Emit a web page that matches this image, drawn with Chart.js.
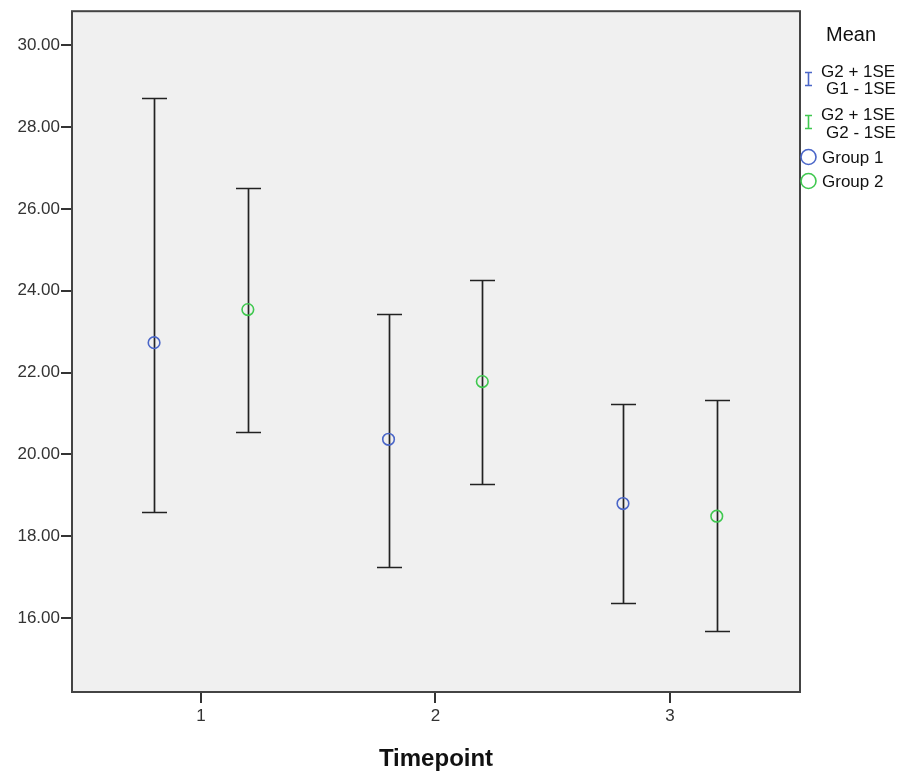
<!DOCTYPE html>
<html>
<head>
<meta charset="utf-8">
<script src="https://cdn.jsdelivr.net/npm/chart.js@4"></script>
<style>
html,body{margin:0;padding:0;background:#fff;}
#wrap{width:912px;height:776px;position:relative;}
</style>
</head>
<body>
<div id="wrap"><canvas id="c" width="912" height="776"></canvas></div>
<script>
// ---- data ----
const timepoints = [1, 2, 3];
const yTicks = [16, 18, 20, 22, 24, 26, 28, 30];
const group1Mean  = [22.73, 20.37, 18.80];
const group1Upper = [28.71, 23.44, 21.24];
const group1Lower = [18.59, 17.24, 16.37];
const group2Mean  = [23.54, 21.78, 18.49];
const group2Upper = [26.51, 24.27, 21.34];
const group2Lower = [20.56, 19.27, 15.68];
const groupOffset = 0.2;
const legendTitle = 'Mean';
const legendBar1 = ['G2 + 1SE', 'G1 - 1SE'];
const legendBar2 = ['G2 + 1SE', 'G2 - 1SE'];
const groupNames = ['Group 1', 'Group 2'];

const BLUE = '#4a66c8';
const GREEN = '#3fc84f';
const INK = '#222';
const FONT = 'Liberation Sans, Arial, sans-serif';

const pts = (means, off) => timepoints.map((t, i) => ({x: t + off, y: means[i]}));

const errorBars = {
  id: 'errorBars',
  beforeDatasetsDraw(chart) {
    const {ctx, chartArea: a, scales: {x, y}} = chart;
    ctx.save();
    ctx.fillStyle = '#f0f0f0';
    ctx.fillRect(a.left, a.top, a.right - a.left, a.bottom - a.top);
    const draw = (upper, lower, off) => {
      timepoints.forEach((t, i) => {
        const px = Math.round(x.getPixelForValue(t + off)) + 0.5;
        const yu = Math.round(y.getPixelForValue(upper[i])) + 0.5;
        const yl = Math.round(y.getPixelForValue(lower[i])) + 0.5;
        ctx.strokeStyle = INK;
        ctx.lineWidth = 1.7;
        ctx.beginPath();
        ctx.moveTo(px, yu); ctx.lineTo(px, yl);
        ctx.moveTo(px - 12.5, yu); ctx.lineTo(px + 12.5, yu);
        ctx.moveTo(px - 12.5, yl); ctx.lineTo(px + 12.5, yl);
        ctx.stroke();
      });
    };
    draw(group1Upper, group1Lower, -groupOffset);
    draw(group2Upper, group2Lower, groupOffset);
    ctx.restore();
  },
  afterDraw(chart) {
    const {ctx, chartArea: a} = chart;
    ctx.save();
    // frame
    ctx.strokeStyle = '#444';
    ctx.lineWidth = 2;
    ctx.strokeRect(a.left, a.top, a.right - a.left, a.bottom - a.top);
    // legend
    ctx.fillStyle = '#111';
    ctx.textBaseline = 'middle';
    ctx.textAlign = 'left';
    ctx.font = '20px ' + FONT;
    ctx.fillText(legendTitle, 826, 35);
    ctx.font = '17px ' + FONT;
    const icon = (cx, cy, col) => {
      ctx.strokeStyle = col; ctx.lineWidth = 1.6;
      ctx.beginPath();
      ctx.moveTo(cx, cy - 6.5); ctx.lineTo(cx, cy + 6.5);
      ctx.moveTo(cx - 3.5, cy - 6.5); ctx.lineTo(cx + 3.5, cy - 6.5);
      ctx.moveTo(cx - 3.5, cy + 6.5); ctx.lineTo(cx + 3.5, cy + 6.5);
      ctx.stroke();
    };
    icon(808.5, 79, BLUE);
    ctx.fillStyle = '#111';
    ctx.fillText(legendBar1[0], 821, 72);
    ctx.fillText(legendBar1[1], 826, 89);
    icon(808.5, 122, GREEN);
    ctx.fillStyle = '#111';
    ctx.fillText(legendBar2[0], 821, 115);
    ctx.fillText(legendBar2[1], 826, 133);
    const circ = (cx, cy, col) => {
      ctx.strokeStyle = col; ctx.lineWidth = 1.6;
      ctx.beginPath(); ctx.arc(cx, cy, 7.5, 0, Math.PI * 2); ctx.stroke();
    };
    circ(808.5, 157, BLUE);
    circ(808.5, 181, GREEN);
    ctx.fillStyle = '#111';
    ctx.fillText(groupNames[0], 822, 158);
    ctx.fillText(groupNames[1], 822, 182);
    ctx.restore();
  }
};

new Chart(document.getElementById('c'), {
  type: 'scatter',
  data: {
    datasets: [
      {label: groupNames[0], data: pts(group1Mean, -groupOffset), pointStyle: 'circle', pointRadius: 5.8,
       pointBorderColor: BLUE, pointBackgroundColor: 'rgba(0,0,0,0)', pointBorderWidth: 1.6},
      {label: groupNames[1], data: pts(group2Mean, groupOffset), pointStyle: 'circle', pointRadius: 5.8,
       pointBorderColor: GREEN, pointBackgroundColor: 'rgba(0,0,0,0)', pointBorderWidth: 1.6}
    ]
  },
  options: {
    responsive: false,
    animation: false,
    layout: {padding: {left: 0, top: 10, right: 112, bottom: 0}},
    plugins: {legend: {display: false}, tooltip: {enabled: false}},
    scales: {
      x: {
        type: 'linear', min: 0.45, max: 3.555,
        afterBuildTicks(s) { s.ticks = timepoints.map(v => ({value: v})); },
        afterFit(s) { s.height = 84; },
        grid: {display: true, drawOnChartArea: false, drawTicks: true, tickLength: 11, color: '#333', lineWidth: 2},
        border: {display: false},
        ticks: {color: '#333', font: {family: FONT, size: 17}, padding: 3, callback: v => String(v)},
        title: {display: true, text: 'Timepoint', color: '#111', font: {family: FONT, size: 24, weight: 'bold'}, padding: {top: 0, bottom: 2}}
      },
      y: {
        type: 'linear', min: 14.195, max: 30.83,
        afterBuildTicks(s) { s.ticks = yTicks.map(v => ({value: v})); },
        afterFit(s) { s.width = 72; },
        grid: {display: true, drawOnChartArea: false, drawTicks: true, tickLength: 11, color: '#333', lineWidth: 2},
        border: {display: false},
        ticks: {color: '#333', font: {family: FONT, size: 17}, padding: 1, callback: v => Number(v).toFixed(2)}
      }
    }
  },
  plugins: [errorBars]
});
</script>
</body>
</html>
